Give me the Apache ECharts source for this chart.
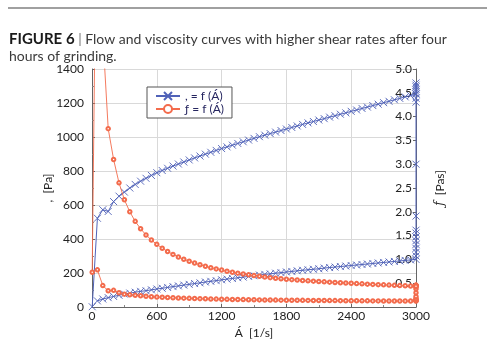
<!DOCTYPE html>
<html>
<head>
<meta charset="utf-8">
<script src="https://cdn.jsdelivr.net/npm/echarts@6/dist/echarts.min.js"></script>
<style>
html,body{margin:0;padding:0;background:#fff;}
#chart{width:500px;height:344px;}
</style>
</head>
<body>
<div id="chart"></div>
<script>
// ---- data ----
const seriesNames = [', = f (Á)', 'ƒ = f (Á)'];
const xTicks = [0, 600, 1200, 1800, 2400, 3000];

// ramp up (shear rate 1/s)
const rateUp = [50,100,150,200,250,300,350,400,450,500,550,600,
  650,700,750,800,850,900,950,1000,1050,1100,1150,1200,
  1250,1300,1350,1400,1450,1500,1550,1600,1650,1700,1750,1800,
  1850,1900,1950,2000,2050,2100,2150,2200,2250,2300,2350,2400,
  2450,2500,2550,2600,2650,2700,2750,2800,2850,2900,2950,3000];
const stressUp = [36,47,55,62,69,76,82,87,92,96,101,106,
  110,115,120,124,129,133,138,142,147,151,155,160,
  164,168,172,176,180,184,188,192,195,199,202,206,
  209,213,216,219,222,225,229,232,235,238,241,244,
  247,250,253,256,259,262,265,268,271,274,277,280];
const viscUp = [0.78,0.45,0.34,0.35,0.30,0.27,0.255,0.245,0.235,0.225,0.215,0.21,
  0.205,0.20,0.195,0.19,0.186,0.182,0.178,0.175,0.172,0.169,0.166,0.163,
  0.161,0.159,0.157,0.155,0.153,0.151,0.149,0.147,0.146,0.145,0.144,0.143,
  0.142,0.141,0.140,0.139,0.138,0.137,0.136,0.135,0.134,0.133,0.132,0.131,
  0.130,0.129,0.129,0.128,0.128,0.127,0.127,0.126,0.126,0.125,0.125,0.124];

// hold at the top shear rate
const holdRate = 3000;
const stressHold = [300,322,345,368,390,412,435,452,535,840,1205,1228,1255,1280,1305,1318,1295,1268];
const viscHold = [0.13,0.14,0.15,0.16,0.18,0.22,0.30,0.38,0.42,0.44,0.45,0.46,0.45,0.44];

// ramp down
const rateDown = [3000,2950,2900,2850,2800,2750,2700,2650,2600,2550,
  2500,2450,2400,2350,2300,2250,2200,2150,2100,2050,
  2000,1950,1900,1850,1800,1750,1700,1650,1600,1550,
  1500,1450,1400,1350,1300,1250,1200,1150,1100,1050,
  1000,950,900,850,800,750,700,650,600,550,
  500,450,400,350,300,250,200,150,100,50,2];
const stressDown = [1252,1244,1236,1227,1219,1210,1202,1193,1185,1176,
  1168,1159,1151,1142,1134,1125,1117,1108,1100,1091,
  1083,1074,1065,1056,1047,1038,1029,1020,1011,1002,
  992,982,972,962,952,942,932,921,910,899,
  888,877,865,853,841,829,816,803,790,774,
  757,740,721,700,676,652,620,562,572,522,1.5];
const viscDown = [0.435,0.44,0.445,0.45,0.455,0.46,0.465,0.47,0.475,0.48,
  0.486,0.492,0.498,0.504,0.51,0.516,0.522,0.529,0.536,0.543,
  0.55,0.558,0.566,0.575,0.584,0.594,0.605,0.617,0.63,0.645,
  0.66,0.676,0.693,0.711,0.73,0.752,0.776,0.80,0.826,0.855,
  0.888,0.923,0.961,1.003,1.05,1.105,1.166,1.235,1.316,1.407,
  1.514,1.644,1.80,2.0,2.253,2.608,3.10,3.747,5.72,10.44,0.73];

// ---- build series data ----
function pairs(xs, ys){ return ys.map((y,i)=>[xs[i], y]); }
function holdPairs(ys){ return ys.map(y=>[holdRate, y]); }
const blueData = pairs(rateUp, stressUp).concat(holdPairs(stressHold), pairs(rateDown, stressDown));
const redData = pairs(rateUp, viscUp).concat(holdPairs(viscHold), pairs(rateDown, viscDown));

const BLUE = '#5062b8';
const RED = '#f36b4c';
const FONT = 'Lato';
const LABEL = '#222';

const chart = echarts.init(document.getElementById('chart'), null, {renderer:'canvas'});
chart.setOption({
  animation: false,
  backgroundColor: '#fff',
  textStyle: {fontFamily: FONT},
  title: {
    left: 9, top: 31, padding: 0,
    text: '{b|FIGURE 6} {s||} Flow and viscosity curves with higher shear rates after four\nhours of grinding.',
    textStyle: {
      fontFamily: FONT, fontSize: 14, fontWeight: 'normal', color: '#3a3a3a', lineHeight: 17,
      rich: {
        b: {fontFamily: FONT, fontSize: 15, fontWeight: 'bold', color: '#1a1a1a', lineHeight: 17},
        s: {fontFamily: FONT, fontSize: 14, color: '#777', lineHeight: 17}
      }
    }
  },
  graphic: [{
    type: 'line', shape: {x1: 8, y1: 8, x2: 487, y2: 8},
    style: {stroke: '#808080', lineWidth: 1.5}
  }],
  legend: {
    left: 147, top: 87, orient: 'vertical',
    padding: [3, 8, 3, 8], itemGap: 1, itemWidth: 24, itemHeight: 10,
    borderColor: '#555', borderWidth: 1, backgroundColor: '#fff',
    textStyle: {fontFamily: FONT, fontSize: 12, color: '#262660'},
    data: seriesNames
  },
  grid: {left: 92, right: 84, top: 69, bottom: 37},
  xAxis: {
    type: 'value', min: xTicks[0], max: xTicks[xTicks.length-1], interval: 600,
    name: 'Á  [1/s]', nameLocation: 'middle', nameGap: 20, nameMoveOverlap: false,
    nameTextStyle: {fontFamily: FONT, fontSize: 12, color: LABEL},
    axisLine: {lineStyle: {color: '#666', width: 1}},
    axisTick: {show: true, inside: true, length: 3, lineStyle: {color: '#666'}},
    minorTick: {show: true, splitNumber: 2, length: 2, lineStyle: {color: '#888'}},
    axisLabel: {fontFamily: FONT, fontSize: 12, color: LABEL, margin: 3, formatter: v => String(v)},
    splitLine: {show: true, lineStyle: {color: '#d9d9d9', width: 1}}
  },
  yAxis: [{
    type: 'value', min: 0, max: 1400, interval: 200, position: 'left',
    name: ',  [Pa]', nameLocation: 'middle', nameGap: 38, nameRotate: 90, nameMoveOverlap: false,
    nameTextStyle: {fontFamily: FONT, fontSize: 12, color: LABEL},
    axisLine: {show: true, lineStyle: {color: '#666', width: 1}},
    axisTick: {show: true, inside: true, length: 3, lineStyle: {color: '#666'}},
    minorTick: {show: true, splitNumber: 2, length: 2, lineStyle: {color: '#888'}},
    axisLabel: {fontFamily: FONT, fontSize: 12, color: LABEL, margin: 8, formatter: v => String(v)},
    splitLine: {show: true, lineStyle: {color: '#d9d9d9', width: 1}}
  }, {
    type: 'value', min: 0, max: 5, interval: 0.5, position: 'right',
    name: '{i|ƒ}  [Pas]', nameLocation: 'middle', nameGap: 18, nameRotate: 90, nameMoveOverlap: false,
    nameTextStyle: {fontFamily: FONT, fontSize: 12, color: LABEL,
      rich: {i: {fontFamily: 'DejaVu Serif', fontStyle: 'italic', fontSize: 12, color: LABEL}}},
    axisLine: {show: true, lineStyle: {color: '#666', width: 1}},
    axisTick: {show: true, inside: true, length: 3, lineStyle: {color: '#666'}},
    axisLabel: {inside: true, fontFamily: FONT, fontSize: 12, color: LABEL, margin: 4,
      formatter: v => v === 0 ? '' : v.toFixed(1)},
    splitLine: {show: false}
  }],
  series: [{
    name: seriesNames[0], type: 'line', yAxisIndex: 0, data: blueData,
    symbol: 'path://M0,0L8,8M8,0L0,8', symbolSize: 7, showSymbol: true,
    lineStyle: {color: BLUE, width: 1},
    itemStyle: {color: BLUE, borderColor: BLUE, borderWidth: 0.9},
    z: 3
  }, {
    name: seriesNames[1], type: 'line', yAxisIndex: 1, data: redData,
    symbol: 'emptyCircle', symbolSize: 3.5, showSymbol: true,
    lineStyle: {color: RED, width: 0.9},
    itemStyle: {color: RED, borderColor: RED, borderWidth: 0.8},
    z: 4
  }]
});
</script>
</body>
</html>
